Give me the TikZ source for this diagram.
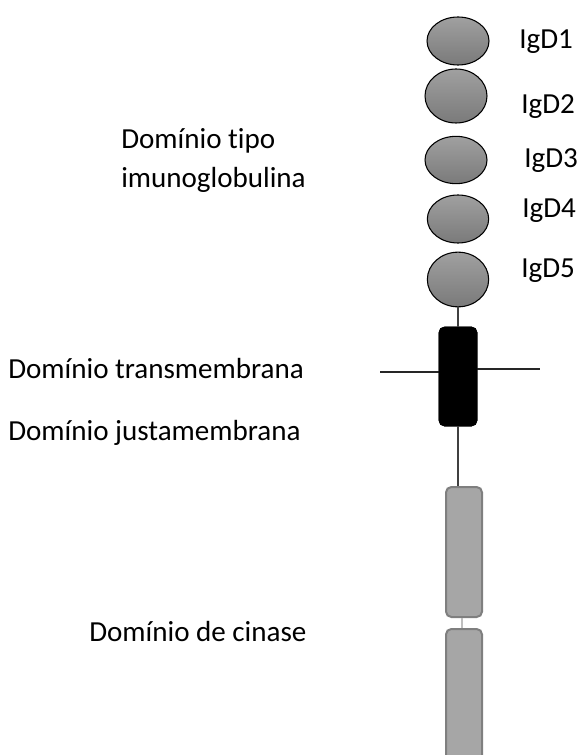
\documentclass[tikz,border=0pt]{standalone}
\usepackage{fontspec}
\setmainfont[Ligatures=NoCommon]{Carlito}
\usetikzlibrary{shapes.geometric}
\definecolor{kfill}{RGB}{166,166,166}
\definecolor{kdraw}{RGB}{127,127,127}
\definecolor{lnk}{RGB}{64,64,64}
\definecolor{egtop}{RGB}{160,160,160}
\definecolor{egbot}{RGB}{122,122,122}
\tikzset{
  igdom/.style={ellipse, draw=black, line width=0.8pt, top color=egtop, bottom color=egbot, inner sep=0pt},
  lbl/.style={anchor=base west, inner sep=0pt, font=\fontsize{21.8}{26}\selectfont},
  tmbox/.style={rectangle, rounded corners=4pt, fill=black, draw=black, inner sep=0pt, minimum width=28.5pt, minimum height=74.25pt},
  kbox/.style={rectangle, rounded corners=4pt, fill=kfill, draw=kdraw, line width=1.5pt, inner sep=0pt, minimum width=27pt},
  link/.style={draw=lnk, line width=0.9pt},
  memb/.style={draw=black!85, line width=0.9pt}
}
\begin{document}
\begin{tikzpicture}[x=0.75pt,y=-0.75pt]
\useasboundingbox (0,0) rectangle (578,755);
\clip (0,0) rectangle (578,755);
% Ig domains
\node[igdom, minimum width=46.5pt, minimum height=36pt] (e1) at (458,41) {};
\node[igdom, minimum width=46.5pt, minimum height=40.5pt] (e2) at (456,96) {};
\node[igdom, minimum width=46.5pt, minimum height=35.5pt] (e3) at (456,160) {};
\node[igdom, minimum width=46pt, minimum height=36pt] (e4) at (458,219) {};
\node[igdom, minimum width=46pt, minimum height=41pt] (e5) at (458,279.5) {};
% transmembrane
\coordinate (ml) at (380,372);
\coordinate (mr) at (540,369);
\node[tmbox] (tm) at (458,376.5) {};
\draw[memb] (ml) -- (tm.west |- ml);
\draw[memb] (tm.east |- mr) -- (mr);
\node[tmbox] at (tm) {};
% kinase
\node[kbox, minimum height=97.5pt] (k1) at (464,552) {};
\node[kbox, minimum height=105pt] (k2) at (464,699) {};
% connectors
\draw[link] (e5.south) -- (tm.north);
\draw[link] (tm.south) -- (tm.south |- k1.north);
\draw[draw=black!25, line width=1.5pt] ([xshift=-1.5pt]k1.south) -- ([xshift=-1.5pt]k2.north);
% labels
\node[lbl] (l1) at (519,49) {IgD1};
\node[lbl] (l2) at (521,114) {IgD2};
\node[lbl] (l3) at (524,168) {IgD3};
\node[lbl] (l4) at (522,218) {IgD4};
\node[lbl] (l5) at (521,277) {IgD5};
\node[lbl] (t1) at (121,149) {Domínio tipo};
\node[lbl] (t2) at (121,188) {imunoglobulina};
\node[lbl] (t3) at (8,378) {Domínio transmembrana};
\node[lbl] (t4) at (8,440) {Domínio justamembrana};
\node[lbl] (t5) at (89,641.5) {Domínio de cinase};
\end{tikzpicture}
\end{document}
